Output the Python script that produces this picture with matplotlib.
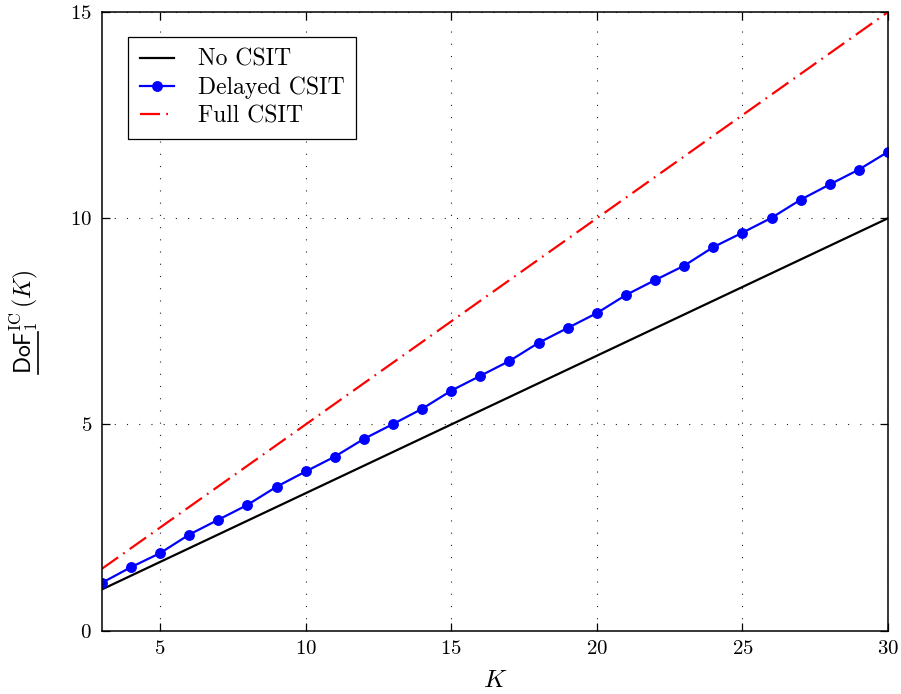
import matplotlib
matplotlib.use("Agg")
import matplotlib.pyplot as plt
from matplotlib.lines import Line2D

K = list(range(3, 31))
no_csit = [k / 3 for k in K]
full_csit = [k / 2 for k in K]
delayed_csit = [1.16, 1.54, 1.88, 2.33, 2.69, 3.05, 3.49, 3.86, 4.22, 4.65,
                5.01, 5.38, 5.82, 6.18, 6.54, 6.98, 7.34, 7.70, 8.14, 8.50,
                8.85, 9.30, 9.65, 10.01, 10.45, 10.82, 11.18, 11.61]
xticks = [5, 10, 15, 20, 25, 30]
yticks = [0, 5, 10, 15]

plt.rcParams['font.family'] = 'serif'
plt.rcParams['font.serif'] = ['cmr10', 'DejaVu Serif']
plt.rcParams['mathtext.fontset'] = 'cm'
plt.rcParams['axes.formatter.use_mathtext'] = True
plt.rcParams['axes.unicode_minus'] = False

fig = plt.figure(figsize=(9.01, 6.94), dpi=100)
ax = fig.add_axes([0.113, 0.0912, 0.8726, 0.8915])

ax.plot(K, no_csit, color='black', lw=1.6, label='No CSIT')
ax.plot(K, delayed_csit, color='blue', lw=1.6, marker='o', ms=6.8, label='Delayed CSIT')
ax.plot(K, full_csit, color='red', lw=1.6, ls=(0, (9.0, 2.8, 0.8, 2.8)), label='Full CSIT')

ax.set_xlim(3, 30)
ax.set_ylim(0, 15)
ax.set_xticks(xticks)
ax.set_yticks(yticks)
ax.grid(True, color='#222222', ls=(0, (1, 10)), lw=0.8)
ax.tick_params(direction='in', top=True, right=True, labelsize=15, length=6, width=0.9, pad=7)
for s in ax.spines.values():
    s.set_linewidth(1.1)

ax.set_xlabel(r'$K$', fontsize=18)
ax.xaxis.set_label_coords(0.5, -0.063)
ylab = r'$\mathsf{DoF}_1^{\mathrm{IC}}\,(K)$'
ax.set_ylabel(ylab, fontsize=17)
ax.yaxis.set_label_coords(-0.079, 0.5)

leg = ax.legend(loc='upper left', bbox_to_anchor=(0.0333, 0.9596), borderaxespad=0,
                fontsize=17, frameon=True, fancybox=False, edgecolor='black', framealpha=1,
                handlelength=1.45, handletextpad=1.0, borderpad=0.5, labelspacing=0.25)
leg.get_frame().set_linewidth(0.9)

# underline under "DoF" in the y label
fig.canvas.draw()
renderer = fig.canvas.get_renderer()
yl = ax.yaxis.label
bb = yl.get_window_extent(renderer)
tmp = fig.text(0, 0, r'$\mathsf{DoF}$', fontsize=17)
wbb = tmp.get_window_extent(renderer)
tmp.remove()
W, H = fig.canvas.get_width_height()
xline = (bb.x1 - 2) / W
fig.add_artist(Line2D([xline, xline], [bb.y0 / H, (bb.y0 + wbb.width - 2) / H],
                      transform=fig.transFigure, color='black', lw=1.2))

fig.savefig('out.png', dpi=100)
